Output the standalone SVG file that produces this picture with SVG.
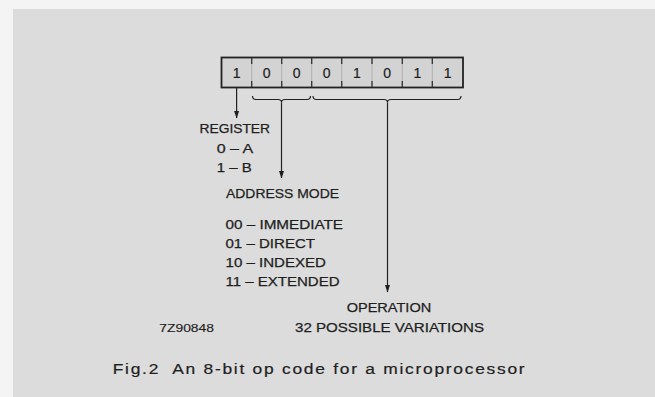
<svg xmlns="http://www.w3.org/2000/svg" width="655" height="397" viewBox="0 0 655 397">
<defs>
<marker id="ah" markerWidth="8" markerHeight="9" refX="7" refY="4.5" orient="auto" markerUnits="userSpaceOnUse">
<path d="M0,2 L7.5,4.5 L0,7 Z" fill="#1e1e1e"/>
</marker>
<style>
.t{font-family:"Liberation Sans",Arial,sans-serif;fill:#1e1e1e;stroke:#1e1e1e;stroke-width:0.25;font-size:12.5px}
.d{font-family:"Liberation Sans",Arial,sans-serif;fill:#1e1e1e;stroke:#1e1e1e;stroke-width:0.2;font-size:14px;text-anchor:middle}
.c{fill:none;stroke:#222;stroke-width:1.2}
.tick{stroke:#333;stroke-width:1.3}
.faint{stroke:#999;stroke-width:0.6}
</style>
</defs>
<rect x="0" y="0" width="655" height="397" fill="#f4f4f4"/>
<rect x="13" y="9" width="642" height="388" fill="#dcdcdc"/>
<g id="opcode">
<rect x="221.5" y="57.5" width="241.5" height="30" fill="#d3d3d3" stroke="#222" stroke-width="1.8"/>
<g>
<line class="faint" x1="251.7" y1="58" x2="251.7" y2="87"/>
<line class="faint" x1="281.7" y1="58" x2="281.7" y2="87"/>
<line class="faint" x1="311.7" y1="58" x2="311.7" y2="87"/>
<line class="faint" x1="341.7" y1="58" x2="341.7" y2="87"/>
<line class="faint" x1="372" y1="58" x2="372" y2="87"/>
<line class="faint" x1="402.3" y1="58" x2="402.3" y2="87"/>
<line class="faint" x1="432.3" y1="58" x2="432.3" y2="87"/>
<path class="tick" d="M251.7,58v6M281.7,58v6M311.7,58v6M341.7,58v6M372,58v6M402.3,58v6M432.3,58v6M251.7,87v-6M281.7,87v-6M311.7,87v-6M341.7,87v-6M372,87v-6M402.3,87v-6M432.3,87v-6"/>
</g>
<text class="d" x="236.6" y="78">1</text>
<text class="d" x="266.7" y="78">0</text>
<text class="d" x="296.7" y="78">0</text>
<text class="d" x="326.7" y="78">0</text>
<text class="d" x="356.8" y="78">1</text>
<text class="d" x="387.1" y="78">0</text>
<text class="d" x="417.3" y="78">1</text>
<text class="d" x="447.6" y="78">1</text>
</g>
<g id="connectors">
<path class="c" d="M252.5,96 Q252.5,99.5 256,99.5 L278,99.5 Q281.5,99.5 281.5,102.5 Q281.5,99.5 285,99.5 L307,99.5 Q310.5,99.5 310.5,96"/>
<path class="c" d="M313,96 Q313,99.5 316.5,99.5 L384,99.5 Q387.5,99.5 387.5,102.5 Q387.5,99.5 391,99.5 L457.5,99.5 Q461,99.5 461,96"/>
<line class="c" x1="236.6" y1="88" x2="236.6" y2="118" marker-end="url(#ah)"/>
<line class="c" x1="281.5" y1="102.5" x2="281.5" y2="178" marker-end="url(#ah)"/>
<line class="c" x1="387.5" y1="102.5" x2="387.5" y2="292" marker-end="url(#ah)"/>
</g>
<g id="register">
<text class="t" x="199.5" y="133.3" textLength="70.5" lengthAdjust="spacingAndGlyphs">REGISTER</text>
<text class="t" x="216.7" y="153.3" textLength="36.5" lengthAdjust="spacingAndGlyphs">0 – A</text>
<text class="t" x="216.7" y="171.7" textLength="35" lengthAdjust="spacingAndGlyphs">1 – B</text>
</g>
<g id="address-mode">
<text class="t" x="226" y="198.3" textLength="113" lengthAdjust="spacingAndGlyphs">ADDRESS MODE</text>
<text class="t" x="225.5" y="229.3" textLength="117.5" lengthAdjust="spacingAndGlyphs">00 – IMMEDIATE</text>
<text class="t" x="225.5" y="248.3" textLength="89.5" lengthAdjust="spacingAndGlyphs">01 – DIRECT</text>
<text class="t" x="225.5" y="266.7" textLength="100.5" lengthAdjust="spacingAndGlyphs">10 – INDEXED</text>
<text class="t" x="225.5" y="285.7" textLength="114" lengthAdjust="spacingAndGlyphs">11 – EXTENDED</text>
</g>
<g id="operation">
<text class="t" x="346.7" y="312.2" textLength="84.5" lengthAdjust="spacingAndGlyphs">OPERATION</text>
<text class="t" x="295" y="331.7" textLength="189" lengthAdjust="spacingAndGlyphs">32 POSSIBLE VARIATIONS</text>
</g>
<text class="t" x="159.3" y="331.5" style="font-size:11px;stroke-width:0.15" textLength="54.7" lengthAdjust="spacingAndGlyphs">7Z90848</text>
<text class="t" xml:space="preserve" transform="translate(112.7,374) scale(1.2,1)" x="0" y="0" style="font-size:14.5px;stroke-width:0.2;white-space:pre" textLength="343.3" lengthAdjust="spacing">Fig.2  An 8-bit op code for a microprocessor</text>
</svg>
